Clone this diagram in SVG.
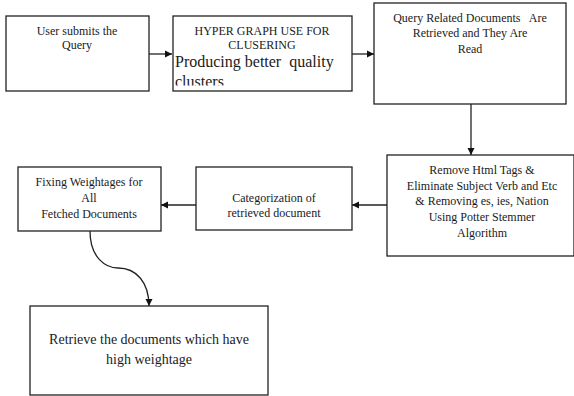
<svg xmlns="http://www.w3.org/2000/svg" width="574" height="396" viewBox="0 0 574 396">
<style>
.box{fill:#fff;stroke:#222;stroke-width:1.3}
.t{font-family:'Liberation Serif','DejaVu Serif','Times New Roman',serif;font-size:12px;fill:#1a1a1a;text-anchor:middle}
.big{font-size:16px;text-anchor:start}
.mid{font-size:14px}
.edge{fill:none;stroke:#222;stroke-width:1.3}
</style>
<defs>
<marker id="ah" markerWidth="8" markerHeight="8" refX="7" refY="4" orient="auto" markerUnits="userSpaceOnUse">
<path d="M0,0.5 L7,4 L0,7.5 z" fill="#111"/>
</marker>
<clipPath id="clip2"><rect x="173" y="16" width="179" height="69.5"/></clipPath>
</defs>
<rect width="574" height="396" fill="#fff"/>
<g id="connectors">
<line class="edge" x1="149" y1="54" x2="172" y2="54" marker-end="url(#ah)"/>
<line class="edge" x1="352" y1="54" x2="374" y2="54" marker-end="url(#ah)"/>
<line class="edge" x1="471" y1="104" x2="471" y2="155" marker-end="url(#ah)"/>
<line class="edge" x1="387" y1="205" x2="352" y2="205" marker-end="url(#ah)"/>
<line class="edge" x1="196" y1="205" x2="161" y2="205" marker-end="url(#ah)"/>
<path class="edge" d="M90,231 C90,258 106,268 118,268 C136,268 149,282 149,306" marker-end="url(#ah)"/>
</g>
<g font-family="Liberation Serif, serif">
<g id="n1">
<rect class="box" x="6" y="16" width="143" height="75"/>
<text class="t" x="77" y="35">User submits the</text>
<text class="t" x="77" y="49">Query</text>
</g>
<g id="n2">
<rect class="box" x="173" y="16" width="179" height="75"/>
<text class="t" x="262" y="35">HYPER GRAPH USE FOR</text>
<text class="t" x="262" y="49">CLUSERING</text>
<g clip-path="url(#clip2)">
<text class="t big" x="175" y="67" xml:space="preserve">Producing better  quality</text>
<text class="t big" x="175" y="87">clusters</text>
</g>
</g>
<g id="n3">
<rect class="box" x="374" y="3" width="192" height="101"/>
<text class="t" x="470" y="22" xml:space="preserve">Query Related Documents   Are</text>
<text class="t" x="470" y="37">Retrieved and They Are</text>
<text class="t" x="470" y="53">Read</text>
</g>
<g id="n4">
<rect class="box" x="387" y="155" width="187" height="101"/>
<text class="t" x="482" y="174">Remove Html Tags &amp;</text>
<text class="t" x="482" y="190">Eliminate Subject Verb and Etc</text>
<text class="t" x="482" y="205">&amp; Removing es, ies, Nation</text>
<text class="t" x="482" y="221">Using Potter Stemmer</text>
<text class="t" x="482" y="237">Algorithm</text>
</g>
<g id="n5">
<rect class="box" x="196" y="167" width="156" height="63"/>
<text class="t" x="274" y="202">Categorization of</text>
<text class="t" x="274" y="217">retrieved document</text>
</g>
<g id="n6">
<rect class="box" x="18" y="167" width="143" height="64"/>
<text class="t" x="89" y="186">Fixing Weightages for</text>
<text class="t" x="89" y="202">All</text>
<text class="t" x="89" y="218">Fetched Documents</text>
</g>
<g id="n7">
<rect class="box" x="30" y="306" width="238" height="89"/>
<text class="t mid" x="149" y="344">Retrieve the documents which have</text>
<text class="t mid" x="149" y="364">high weightage</text>
</g>
</g>
</svg>
